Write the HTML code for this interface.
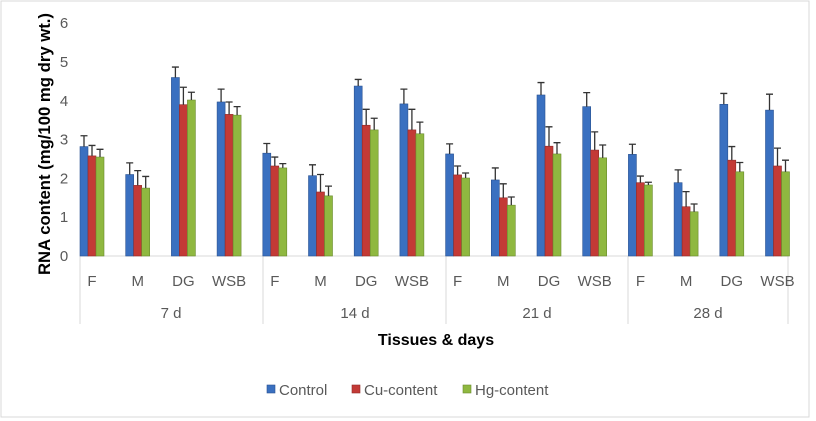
<!DOCTYPE html>
<html><head><meta charset="utf-8"><style>
body{margin:0;background:#fff;}
svg{display:block;font-family:"Liberation Sans",sans-serif;}
</style></head><body>
<svg id="chart" width="816" height="421">
<rect x="1" y="1" width="808" height="416" fill="#fff" stroke="#d9d9d9"/>
<g id="plot"></g>
</svg>
<script>
const groups=["7 d","14 d","21 d","28 d"];
const tissues=["F","M","DG","WSB"];
const yTicks=[0,1,2,3,4,5,6];
const control=[2.82,2.1,4.6,3.97, 2.65,2.07,4.38,3.92, 2.63,1.96,4.15,3.85, 2.62,1.89,3.91,3.76];
const controlErr=[0.28,0.3,0.27,0.33, 0.25,0.28,0.17,0.38, 0.26,0.31,0.32,0.36, 0.26,0.33,0.28,0.41];
const cu=[2.58,1.82,3.9,3.65, 2.32,1.65,3.37,3.25, 2.09,1.5,2.83,2.73, 1.89,1.27,2.47,2.32];
const cuErr=[0.27,0.38,0.45,0.32, 0.23,0.45,0.41,0.53, 0.23,0.36,0.5,0.47, 0.17,0.39,0.35,0.46];
const hg=[2.55,1.75,4.02,3.63, 2.27,1.55,3.25,3.15, 2.01,1.31,2.63,2.53, 1.83,1.14,2.17,2.17];
const hgErr=[0.2,0.3,0.2,0.22, 0.11,0.25,0.3,0.3, 0.13,0.21,0.29,0.33, 0.07,0.2,0.24,0.3];
const seriesNames=["Control","Cu-content","Hg-content"];
const colors=["#3a70c0","#c33a36","#8fb840"];
const edges=["#2a5290","#922a28","#6a8a2e"];
const NS="http://www.w3.org/2000/svg";
const g=document.getElementById('plot');
function el(t,a,p){const e=document.createElementNS(NS,t);for(const k in a)e.setAttribute(k,a[k]);(p||g).appendChild(e);return e;}
const y0=256,unit=38.8;
function y(v){return y0-v*unit;}
const catW=45.7,x0=92;
function xc(i){return x0+i*catW;}
const bw=8;
yTicks.forEach(t=>{const tx=el('text',{x:64,y:y(t)+5,'text-anchor':'middle','font-size':15,fill:'#595959'});tx.textContent=t;

});
const yt=el('text',{x:0,y:0,transform:'translate(50,144) rotate(-90)','text-anchor':'middle','font-size':17,'font-weight':'bold',fill:'#000',textLength:262,lengthAdjust:'spacingAndGlyphs'});
yt.textContent="RNA content (mg/100 mg dry wt.)";


const ax=el('line',{x1:80,y1:y0,x2:788,y2:y0,stroke:'#d9d9d9','stroke-width':1});


[80,263,446,628,788].forEach(sx=>{const l=el('line',{x1:sx,y1:y0,x2:sx,y2:324,stroke:'#d9d9d9'});

});
const data=[control,cu,hg],errs=[controlErr,cuErr,hgErr];
for(let i=0;i<16;i++){
 const c=xc(i);
 const tl=el('text',{x:c,y:286,'text-anchor':'middle','font-size':15,fill:'#595959'});tl.textContent=tissues[i%4];
 
 
 for(let s=0;s<3;s++){
  const v=data[s][i],bx=c-12+s*bw;
  const r=el('rect',{x:bx,y:y(v),width:bw,height:v*unit,fill:colors[s],stroke:edges[s],'stroke-width':0.6});
  
  
  const top=y(v+errs[s][i]),cx=bx+bw/2;
  const e=el('path',{d:`M${cx},${y(v)}V${top}M${cx-3.5},${top}H${cx+3.5}`,stroke:'#333','stroke-width':1.3,fill:'none'});
  
  
 }
}
const gx=[171,355,537,708];
groups.forEach((gn,k)=>{const t=el('text',{x:gx[k],y:318,'text-anchor':'middle','font-size':15,fill:'#595959'});t.textContent=gn;

});
const xt=el('text',{x:436,y:345,'text-anchor':'middle','font-size':16,'font-weight':'bold',fill:'#000'});
xt.textContent="Tissues & days";


const lx=[267,352,463];
seriesNames.forEach((n,s)=>{
 const r=el('rect',{x:lx[s],y:385,width:8,height:8,fill:colors[s],stroke:edges[s],'stroke-width':0.6});
 
 
 const t=el('text',{x:lx[s]+12,y:395,'font-size':15,fill:'#595959'});t.textContent=n;
 
 
});
</script>
</body></html>
